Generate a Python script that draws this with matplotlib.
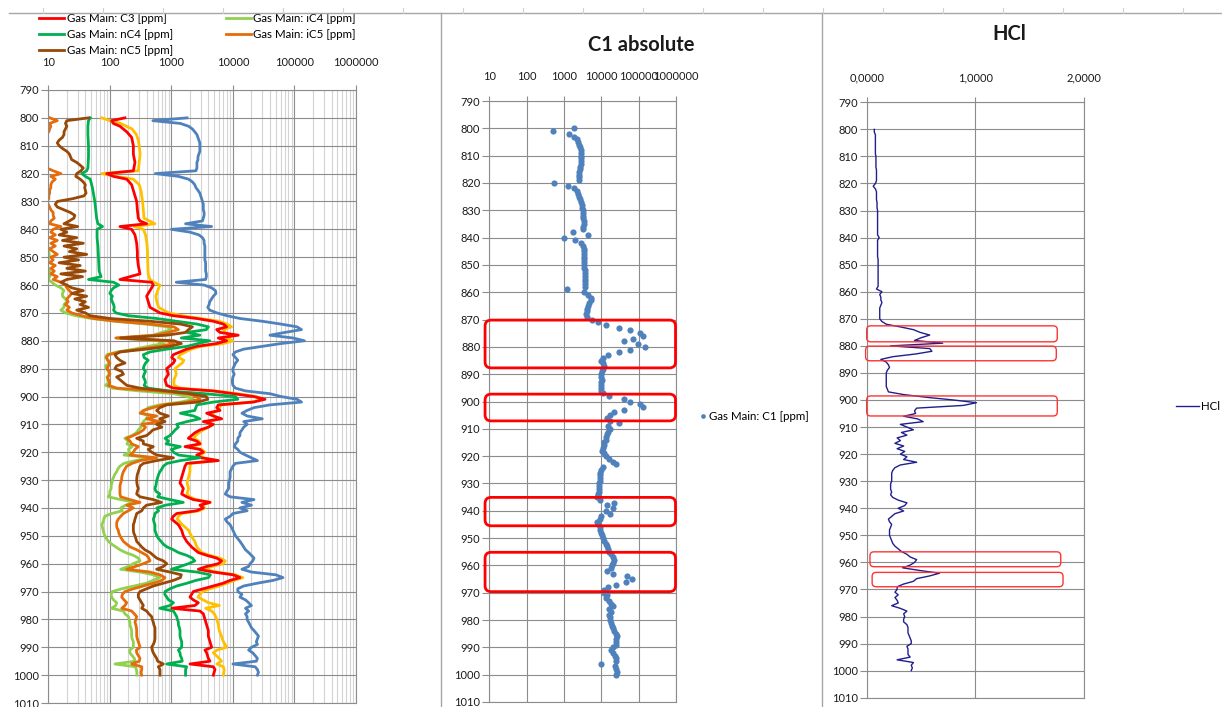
import matplotlib.pyplot as plt
import numpy as np
from matplotlib.patches import FancyBboxPatch
from matplotlib.lines import Line2D
from matplotlib.transforms import IdentityTransform
from matplotlib.ticker import LogLocator, NullFormatter

plt.rcParams['font.family'] = ['Lato', 'DejaVu Sans']

# depth grid for the 1 m logs (m)
depth_m = np.arange(800, 1001)

# C1 gas, ppm, 800..1000 m
c1_ppm = [
    1800, 500, 1400, 1900, 2200, 2400, 2600, 2700, 2800, 2900,
    2900, 2900, 2900, 2800, 2700, 2700, 2600, 2600, 2600, 2500,
    550, 1300, 1900, 2200, 2400, 2500, 2700, 2900, 3000, 3100,
    3200, 3300, 3300, 3300, 3400, 3400, 3300, 3200, 1700, 4500,
    1000, 2000, 2800, 3200, 3400, 3400, 3500, 3500, 3500, 3500,
    3500, 3500, 3600, 3600, 3600, 3600, 3700, 3700, 3600, 1200,
    3400, 4500, 5200, 5300, 4800, 4500, 4200, 4100, 3900, 4200,
    5500, 8000, 13000, 30000, 60000, 110000, 130000, 70000, 40000, 95000,
    145000, 60000, 30000, 15000, 11000, 10000, 11000, 12000, 11000, 10500,
    10000, 10000, 10500, 10000, 9800, 9800, 10000, 11000, 16000, 40000,
    60000, 110000, 130000, 40000, 22000, 17000, 14000, 17000, 30000, 15000,
    17000, 15000, 14000, 13000, 13000, 12000, 12000, 11000, 10500, 12000,
    13000, 16000, 20000, 25000, 11000, 10000, 9500, 9000, 9000, 9000,
    8800, 8500, 8500, 8500, 8000, 7500, 9000, 22000, 14000, 20000,
    13000, 17000, 10000, 9000, 7500, 8000, 9000, 9500, 10000, 10500,
    11000, 12000, 13000, 14000, 15000, 16000, 18000, 20000, 22000, 21000,
    19000, 18000, 14000, 20000, 50000, 65000, 45000, 25000, 15000, 12000,
    12000, 14000, 13000, 16000, 18000, 20000, 16000, 18000, 16000, 17000,
    17000, 18000, 19000, 20000, 22000, 24000, 26000, 25000, 24000, 25000,
    20000, 18000, 21000, 23000, 25000, 24000, 10000, 23000, 25000, 26000,
    25000,
]

# HCl index, 800..1000 m
hcl = [
    0.07, 0.07, 0.08, 0.08, 0.08, 0.08, 0.08, 0.08, 0.08, 0.08,
    0.085, 0.085, 0.085, 0.085, 0.085, 0.09, 0.09, 0.09, 0.09, 0.09,
    0.08, 0.06, 0.08, 0.09, 0.09, 0.09, 0.09, 0.095, 0.095, 0.095,
    0.10, 0.10, 0.10, 0.10, 0.10, 0.10, 0.10, 0.10, 0.10, 0.10,
    0.115, 0.10, 0.10, 0.10, 0.10, 0.10, 0.10, 0.10, 0.105, 0.105,
    0.105, 0.105, 0.105, 0.105, 0.105, 0.105, 0.105, 0.105, 0.105, 0.09,
    0.14, 0.12, 0.13, 0.13, 0.14, 0.13, 0.12, 0.12, 0.12, 0.12,
    0.12, 0.14, 0.18, 0.31, 0.43, 0.49, 0.58, 0.50, 0.44, 0.70,
    0.22, 0.58, 0.60, 0.45, 0.24, 0.13, 0.18, 0.20, 0.21, 0.19,
    0.18, 0.18, 0.18, 0.18, 0.18, 0.18, 0.19, 0.20, 0.34, 0.55,
    0.80, 1.01, 0.89, 0.46, 0.44, 0.45, 0.34, 0.47, 0.52, 0.31,
    0.37, 0.43, 0.32, 0.37, 0.28, 0.31, 0.26, 0.34, 0.28, 0.35,
    0.31, 0.37, 0.34, 0.46, 0.31, 0.26, 0.24, 0.23, 0.23, 0.23,
    0.23, 0.22, 0.22, 0.22, 0.23, 0.22, 0.24, 0.29, 0.37, 0.35,
    0.29, 0.34, 0.26, 0.23, 0.20, 0.21, 0.23, 0.22, 0.21, 0.21,
    0.21, 0.22, 0.23, 0.24, 0.26, 0.29, 0.32, 0.37, 0.40, 0.46,
    0.44, 0.40, 0.33, 0.49, 0.67, 0.58, 0.46, 0.43, 0.34, 0.28,
    0.28, 0.26, 0.29, 0.26, 0.28, 0.29, 0.23, 0.31, 0.37, 0.34,
    0.35, 0.34, 0.34, 0.37, 0.38, 0.38, 0.38, 0.39, 0.40, 0.41,
    0.41, 0.37, 0.38, 0.38, 0.38, 0.40, 0.28, 0.43, 0.41, 0.42,
    0.41,
]

# nC5, ppm, 800..1000 m
nc5_ppm = [
    45, 20, 19, 20, 19, 18, 18, 17, 15, 14,
    15, 17, 20, 22, 23, 24, 29, 33, 37, 34,
    29, 28, 33, 37, 40, 39, 40, 41, 38, 25,
    14, 13, 14, 18, 23, 27, 26, 22, 18, 30,
    16, 20, 15, 29, 17, 37, 18, 29, 22, 42,
    18, 31, 15, 33, 20, 40, 16, 36, 20, 16,
    20, 24, 37, 24, 42, 27, 40, 33, 45, 29,
    40, 48, 100, 450, 1400, 2200, 1900, 1700, 840, 150,
    1100, 1450, 950, 390, 146, 121, 129, 146, 176, 129,
    121, 156, 166, 129, 146, 166, 188, 309, 840, 2000,
    3700, 3900, 2700, 840, 650, 576, 650, 890, 650, 787,
    576, 700, 500, 450, 396, 273, 350, 350, 508, 420,
    480, 576, 1080, 576, 350, 309, 300, 290, 280, 275,
    273, 275, 280, 290, 280, 273, 309, 508, 690, 396,
    350, 330, 273, 265, 256, 250, 241, 241, 241, 245,
    256, 265, 273, 300, 330, 370, 449, 508, 576, 740,
    840, 740, 576, 950, 1450, 1400, 1080, 740, 508, 396,
    309, 290, 290, 309, 330, 350, 330, 396, 430, 478,
    490, 508, 520, 541, 541, 541, 541, 541, 530, 508,
    478, 490, 508, 540, 576, 600, 740, 613, 653, 653,
    653,
]

# iC5, ppm, 800..1000 m
ic5_ppm = [
    10.6, 14, 10.5, 11, 10.5, 10.2, 9, 8.5, 8, 8,
    8, 8, 8, 8, 8, 8, 8.5, 9, 9.5, 12,
    16, 11, 13, 11.5, 11, 11, 10.5, 10.5, 10.2, 10.2,
    9.5, 10, 10.5, 11, 12, 12, 12.5, 11, 10.5, 16,
    12, 11, 13, 10.5, 14, 11, 13, 10.5, 12, 14,
    11, 12, 10.5, 13, 11, 12.5, 11, 14, 12, 16,
    19, 20, 22, 24, 22, 20, 21, 19, 22, 20,
    24, 35, 55, 130, 450, 1100, 1300, 900, 550, 125,
    850, 1100, 650, 300, 150, 95, 88, 92, 100, 95,
    90, 98, 100, 92, 95, 100, 95, 130, 600, 1800,
    2600, 2900, 1800, 740, 500, 350, 310, 576, 396, 650,
    330, 380, 350, 300, 241, 188, 212, 226, 290, 256,
    241, 212, 576, 310, 230, 188, 176, 166, 160, 156,
    155, 150, 146, 146, 146, 146, 150, 212, 309, 188,
    241, 200, 166, 150, 137, 130, 129, 130, 137, 140,
    146, 155, 166, 188, 215, 273, 330, 396, 430, 449,
    350, 260, 188, 449, 653, 787, 700, 508, 350, 241,
    176, 160, 156, 170, 188, 176, 156, 226, 250, 273,
    265, 256, 265, 270, 273, 273, 273, 280, 290, 300,
    309, 270, 273, 290, 309, 300, 226, 330, 330, 320,
    330,
]

# iC4, ppm (sparse above 860 m, then every metre)
ic4_depth = [800, 810, 820, 830, 840, 850, 852, 854, 856, 858] + list(range(860, 1001))
ic4_ppm = [
    8, 8, 8.5, 8.5, 9, 10.5, 9.5, 10, 11, 10,
    13, 16, 18, 17, 17, 19, 20, 18, 18, 16,
    19, 28, 50, 120, 380, 850, 1000, 700, 500, 130,
    600, 750, 420, 250, 130, 90, 85, 95, 100, 85,
    88, 95, 100, 90, 92, 95, 85, 110, 300, 1100,
    1800, 2300, 1400, 650, 420, 370, 330, 420, 390, 350,
    330, 320, 290, 270, 230, 175, 200, 190, 230, 200,
    210, 170, 500, 260, 170, 146, 135, 129, 120, 115,
    110, 108, 105, 105, 100, 100, 94, 150, 260, 180,
    150, 160, 107, 83, 80, 78, 74, 76, 78, 80,
    83, 88, 95, 107, 125, 146, 180, 241, 290, 309,
    241, 200, 150, 309, 508, 650, 500, 396, 250, 156,
    110, 105, 107, 115, 129, 125, 107, 166, 176, 200,
    206, 212, 212, 220, 226, 226, 226, 230, 241, 241,
    241, 210, 212, 230, 250, 256, 121, 260, 270, 275,
    275,
]

# nC4, ppm (sparse above 858 m, then every metre)
nc4_depth = [800, 801, 803, 806, 810, 814, 818, 819, 820, 821, 822, 825, 828, 830, 833,
             836, 838, 839, 840, 843, 846, 849, 852, 855, 857] + list(range(858, 1001))
nc4_ppm = [
    48, 45, 44, 44, 45, 45, 44, 42, 35, 40, 48, 52, 55, 57, 59,
    61, 64, 76, 62, 62, 64, 65, 66, 67, 72,
    45, 115,
    140, 115, 105, 100, 110, 105, 110, 115, 118, 115,
    125, 200, 570, 1200, 2600, 4000, 3700, 1800, 2900, 1450,
    4200, 2700, 1800, 840, 450, 350, 360, 420, 380, 360,
    350, 380, 360, 350, 370, 380, 360, 420, 900, 3500,
    11000, 12000, 4800, 2600, 2500, 2400, 1400, 2300, 2900, 1800,
    1220, 1300, 1150, 1050, 950, 790, 900, 820, 1400, 1000,
    1080, 1300, 2900, 1400, 850, 740, 700, 650, 620, 600,
    580, 570, 560, 540, 560, 650, 600, 950, 1560, 800,
    580, 620, 540, 530, 510, 520, 540, 540, 540, 560,
    580, 620, 680, 740, 850, 1080, 1300, 1770, 2200, 2400,
    1900, 1400, 1000, 2600, 4300, 4000, 2500, 1800, 1220, 950,
    790, 780, 840, 900, 1080, 950, 650, 1080, 1150, 1220,
    1250, 1300, 1300, 1350, 1380, 1380, 1380, 1420, 1470, 1470,
    1470, 1300, 1380, 1400, 1470, 1500, 840, 1770, 1700, 1700,
    1700,
]

# C3 and C2, (depth, ppm)
c3_log = [
    (800, 176), (801, 107), (802, 114), (803, 146), (805, 188), (807, 226), (810, 241), (813, 241),
    (816, 256), (819, 241), (820, 89), (821, 114), (822, 188), (824, 226), (826, 241), (828, 256),
    (830, 273), (833, 280), (836, 290), (837, 309), (838, 396), (839, 146), (840, 226), (842, 256),
    (845, 273), (848, 280), (850, 280), (853, 290), (856, 309), (858, 146), (859, 478), (860, 508),
    (862, 449), (864, 396), (866, 422), (868, 449), (870, 653), (871, 1075), (872, 2574), (873, 4804),
    (874, 6986), (875, 7915), (876, 5443), (877, 6166), (878, 12200), (879, 5793), (880, 7915),
    (881, 5443), (882, 2574), (883, 1771), (884, 1380), (885, 1075), (886, 1010), (887, 1143),
    (888, 1075), (889, 949), (890, 838), (892, 891), (894, 787), (896, 838), (897, 1075), (898, 4804),
    (899, 10150), (900, 21500), (901, 33200), (902, 21500), (903, 5793), (904, 5443), (905, 6166),
    (906, 3743), (907, 4804), (908, 6563), (909, 3304), (910, 4804), (911, 3984), (912, 2916),
    (913, 2418), (914, 2135), (915, 1884), (916, 2574), (917, 2916), (918, 1664), (919, 2916),
    (920, 3304), (921, 2574), (922, 3104), (923, 5793), (924, 1771), (925, 1664), (927, 1563),
    (929, 1469), (931, 1380), (933, 1563), (935, 1469), (936, 1771), (937, 2271), (938, 4240),
    (939, 2916), (940, 3304), (941, 2574), (942, 1218), (943, 1075), (944, 1010), (946, 1297),
    (948, 1469), (950, 1563), (952, 1771), (954, 2135), (956, 2740), (957, 3743), (958, 5443),
    (959, 6563), (960, 5793), (961, 3743), (962, 2740), (963, 4804), (964, 10150), (965, 13000),
    (966, 8966), (967, 6986), (968, 4804), (969, 3304), (970, 2271), (971, 2135), (972, 2005),
    (973, 2271), (974, 2740), (975, 2418), (976, 1010), (977, 2916), (978, 3304), (980, 3516),
    (982, 3743), (984, 3984), (986, 3984), (988, 4240), (990, 4513), (991, 3516), (992, 3743),
    (994, 3984), (995, 4240), (996, 2005), (997, 4804), (998, 5113), (1000, 4804),
]
c2_log = [
    (800, 74), (801, 100), (802, 150), (804, 230), (806, 270), (808, 290), (810, 300), (813, 310),
    (816, 300), (819, 290), (820, 74), (821, 130), (822, 240), (824, 300), (826, 320), (828, 330),
    (830, 340), (833, 350), (836, 360), (838, 540), (839, 250), (840, 350), (842, 380), (845, 400),
    (848, 410), (850, 410), (853, 415), (856, 420), (858, 450), (859, 520), (860, 650), (862, 600),
    (864, 560), (866, 580), (868, 620), (870, 900), (871, 1500), (872, 3000), (873, 6000), (874, 8000),
    (875, 9500), (876, 7000), (877, 7500), (878, 9000), (879, 8000), (880, 10000), (881, 7000),
    (882, 3000), (883, 2100), (884, 1700), (885, 1400), (886, 1300), (887, 1600), (888, 1500),
    (889, 1300), (890, 1150), (892, 1200), (894, 1100), (896, 1100), (897, 1400), (898, 5000),
    (899, 12000), (900, 24000), (901, 30000), (902, 20000), (903, 6500), (904, 6000), (905, 5800),
    (906, 4300), (907, 5000), (908, 6000), (909, 4000), (910, 4500), (911, 4000), (912, 3300),
    (913, 2800), (914, 2500), (915, 2300), (916, 2800), (917, 3000), (918, 2000), (919, 3100),
    (920, 3500), (921, 2900), (922, 3300), (923, 5500), (924, 2100), (925, 2000), (927, 2000),
    (929, 1900), (931, 1800), (933, 1900), (935, 1800), (936, 2000), (937, 2500), (938, 4300),
    (939, 3000), (940, 3500), (941, 2800), (942, 1500), (943, 1300), (944, 1250), (946, 1500),
    (948, 1900), (950, 2100), (952, 2400), (954, 2600), (956, 3100), (957, 4200), (958, 6200),
    (959, 7500), (960, 7000), (961, 4500), (962, 3400), (963, 5500), (964, 11000), (965, 14500),
    (966, 10500), (967, 8000), (968, 6000), (969, 4200), (970, 3200), (971, 2900), (972, 2700),
    (973, 3300), (974, 4000), (975, 6000), (976, 3600), (977, 4500), (978, 5000), (980, 5500),
    (982, 5800), (984, 6000), (986, 6500), (988, 7000), (990, 7900), (991, 5500), (992, 4800),
    (994, 6000), (995, 6500), (996, 5500), (997, 7000), (998, 7200), (1000, 7000),
]

log_ticks = [10, 100, 1000, 10000, 100000, 1000000]
log_labels = ['10', '100', '1000', '10000', '100000', '1000000']
hcl_ticks = [0, 1, 2]
hcl_labels = ['0,0000', '1,0000', '2,0000']

# highlighted intervals (top, base depth)
c1_zones = [(870.2, 887.7), (897.3, 907.1), (935.1, 945.5), (955.2, 969.6)]
c1_zone_span = (7.7, 970000)
hcl_zones = [(0.0, 1.754, 872.6, 878.5), (-0.01, 1.745, 880.1, 885.5), (0.0, 1.754, 898.5, 905.9),
             (0.03, 1.786, 956.1, 961.6), (0.05, 1.807, 963.7, 969.0)]

GRID = '#8c8c8c'
MINOR = '#d3d3d3'
TXT = '#1a1a1a'
BLUE = '#4f81bd'
LEG_FS = 8.3

W, H = 1222, 707
fig = plt.figure(figsize=(W / 100, H / 100), dpi=100)


def px_axes(x0, y0, x1, y1):
    return fig.add_axes([x0 / W, 1 - y1 / H, (x1 - x0) / W, (y1 - y0) / H])


def depth_axis(ax, xpad):
    ax.set_ylim(1010, 790)
    ax.set_yticks(np.arange(790, 1011, 10))
    ax.xaxis.tick_top()
    ax.tick_params(axis='y', which='major', direction='out', length=5, width=0.8,
                   color=GRID, pad=1.5, labelsize=8, labelcolor=TXT)
    ax.tick_params(axis='x', which='major', direction='out', length=3.5, width=0.8,
                   color=GRID, pad=xpad, labelsize=8, labelcolor=TXT)
    ax.grid(True, which='major', color=GRID, lw=0.8)
    for sp in ax.spines.values():
        sp.set_color(GRID)
        sp.set_linewidth(0.8)
    ax.set_axisbelow(True)


def zone_box(ax, x0, x1, top, base, lw, color, radius):
    px0, py0 = ax.transData.transform((x0, base))
    px1, py1 = ax.transData.transform((x1, top))
    box = FancyBboxPatch((px0, py0), px1 - px0, py1 - py0,
                         boxstyle=f'round,pad=0,rounding_size={radius}',
                         transform=IdentityTransform(), fill=False, ec=color, lw=lw, zorder=10)
    fig.add_artist(box)


# gas chromatograph panel
ax_gas = px_axes(48.3, 90, 356, 703)
ax_gas.set_xscale('log')
ax_gas.set_xlim(10, 1e6)
ax_gas.set_xticks(log_ticks, labels=log_labels)
ax_gas.xaxis.set_minor_locator(LogLocator(base=10, subs=np.arange(2, 10)))
ax_gas.xaxis.set_minor_formatter(NullFormatter())
ax_gas.tick_params(axis='x', which='minor', length=0)
ax_gas.grid(True, which='minor', axis='x', color=MINOR, lw=0.8)
depth_axis(ax_gas, 12.3)

lw = 2.0
c2_d, c2_v = zip(*c2_log)
c3_d, c3_v = zip(*c3_log)
ax_gas.plot(c1_ppm, depth_m, color=BLUE, lw=lw)
ax_gas.plot(c2_v, c2_d, color='#ffc000', lw=lw)
l_c3, = ax_gas.plot(c3_v, c3_d, color='#ff0000', lw=lw, label='Gas Main: C3 [ppm]')
l_ic4, = ax_gas.plot(ic4_ppm, ic4_depth, color='#92d050', lw=lw, label='Gas Main: iC4 [ppm]')
l_nc4, = ax_gas.plot(nc4_ppm, nc4_depth, color='#00b050', lw=lw, label='Gas Main: nC4 [ppm]')
l_ic5, = ax_gas.plot(ic5_ppm, depth_m, color='#e46c0a', lw=lw, label='Gas Main: iC5 [ppm]')
l_nc5, = ax_gas.plot(nc5_ppm, depth_m, color='#984807', lw=lw, label='Gas Main: nC5 [ppm]')
ax_gas.legend(handles=[l_c3, l_nc4, l_nc5, l_ic4, l_ic5], ncol=2, loc='upper left',
              bbox_to_anchor=(39 / W, 1 - 13 / H), bbox_transform=fig.transFigure,
              frameon=False, fontsize=LEG_FS, handlelength=2.2, handletextpad=0.2,
              columnspacing=4.6, labelspacing=0.42, borderpad=0, borderaxespad=0)

# C1 absolute panel
ax_c1 = px_axes(489.3, 101, 676, 702)
ax_c1.set_xscale('log')
ax_c1.set_xlim(10, 1e6)
ax_c1.set_xticks(log_ticks, labels=log_labels)
ax_c1.xaxis.set_minor_locator(plt.NullLocator())
depth_axis(ax_c1, 10.2)
ax_c1.scatter(c1_ppm, depth_m, s=20, color=BLUE, linewidths=0, label='Gas Main: C1 [ppm]', zorder=3)
ax_c1.legend(loc='center left', bbox_to_anchor=(700 / W, 1 - 416 / H), bbox_transform=fig.transFigure,
             frameon=False, fontsize=LEG_FS, handlelength=0.6, handletextpad=0.2, scatterpoints=1,
             borderpad=0, borderaxespad=0, markerscale=0.75)
for top, base in c1_zones:
    zone_box(ax_c1, c1_zone_span[0], c1_zone_span[1], top, base, 2.0, '#ff0000', 6)

# HCl panel
ax_hcl = px_axes(866.7, 102.3, 1084, 697.7)
ax_hcl.set_xlim(0, 2)
ax_hcl.set_xticks(hcl_ticks, labels=hcl_labels)
depth_axis(ax_hcl, 10.2)
ax_hcl.plot(hcl, depth_m, color='#1f1f8f', lw=1.0, label='HCl')
ax_hcl.legend(loc='center left', bbox_to_anchor=(1176 / W, 1 - 407 / H), bbox_transform=fig.transFigure,
              frameon=False, fontsize=LEG_FS, handlelength=2.0, handletextpad=0.2,
              borderpad=0, borderaxespad=0)
for x0, x1, top, base in hcl_zones:
    zone_box(ax_hcl, x0, x1, top, base, 1.0, '#ff3333', 4)

fig.text(641 / W, 1 - 45 / H, 'C1 absolute', ha='center', va='center', fontsize=14.5,
         fontweight='bold', color=TXT)
fig.text(1009 / W, 1 - 34 / H, 'HCl', ha='center', va='center', fontsize=14.5,
         fontweight='bold', color=TXT)

# sheet frame: top rule, column marks and chart borders
ytop = 1 - 13 / H
fig.add_artist(Line2D([9 / W, 1], [ytop, ytop], transform=fig.transFigure, color='#a6a6a6', lw=1))
for xc in range(43, W, 60):
    fig.add_artist(Line2D([xc / W, xc / W], [ytop, 1 - 8 / H], transform=fig.transFigure,
                          color='#d0d0d0', lw=0.8))
for xb in (441, 822):
    fig.add_artist(Line2D([xb / W, xb / W], [0, ytop], transform=fig.transFigure, color='#a6a6a6', lw=1))

fig.savefig('out.png', dpi=100)
